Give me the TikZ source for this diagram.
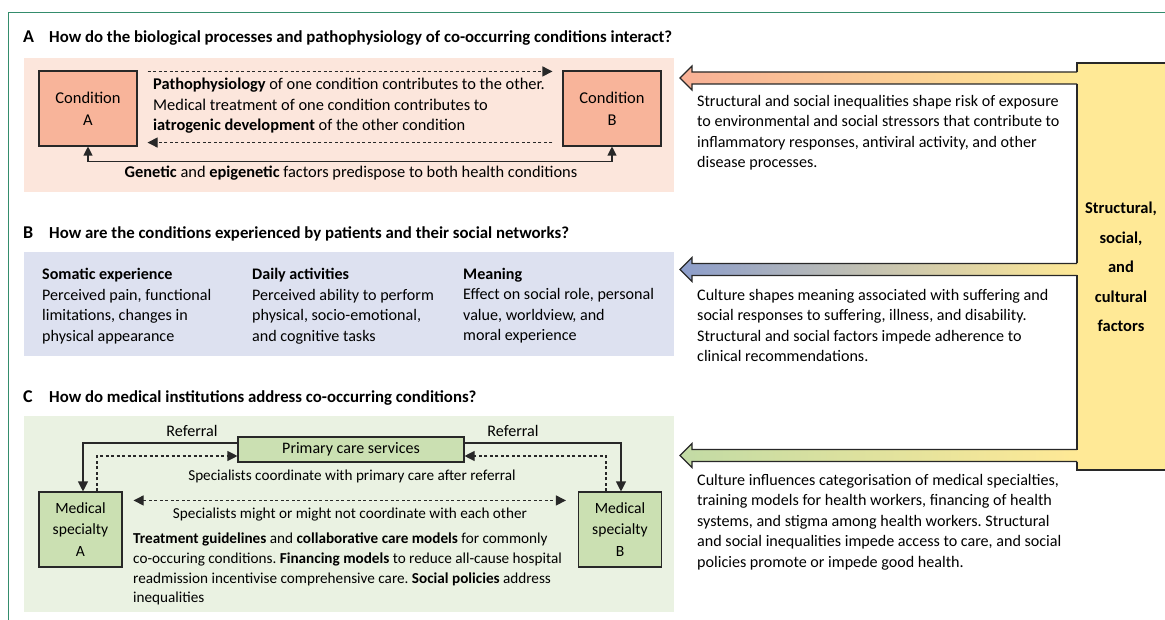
\documentclass[tikz,border=0pt]{standalone}
\usepackage{fontspec}
\setmainfont{Carlito}
\usepackage{xcolor}
\usetikzlibrary{arrows.meta}
\frenchspacing

\definecolor{framegreen}{RGB}{52,140,108}
\definecolor{boxline}{RGB}{40,40,40}
\definecolor{panelA}{RGB}{252,230,220}
\definecolor{panelB}{RGB}{221,225,240}
\definecolor{panelC}{RGB}{234,242,226}
\definecolor{condfill}{RGB}{248,180,154}
\definecolor{specfill}{RGB}{203,224,178}
\definecolor{yellowfill}{RGB}{255,233,150}
\definecolor{arrowA}{RGB}{248,176,150}
\definecolor{arrowB}{RGB}{140,157,203}
\definecolor{arrowC}{RGB}{194,219,165}

\newcommand\txtfont{\fontsize{16.1}{20.5}\selectfont}
\newcommand\pathfont{\fontsize{16.4}{20.5}\selectfont}
\newcommand\carefont{\fontsize{15.2}{19.7}\selectfont}

\tikzset{
	title/.style={anchor=base west, inner sep=0pt, font=\bfseries\fontsize{16.8}{18}\selectfont},
	letter/.style={anchor=base west, inner sep=0pt, font=\bfseries\fontsize{18}{18}\selectfont},
	body/.style={anchor=north west, inner sep=0pt, align=left, font=\txtfont},
	linetxt/.style={anchor=base, inner sep=0pt, font=\carefont},
	cond/.style={draw=boxline, fill=condfill, line width=1.1pt, minimum width=98pt, minimum height=75pt, align=center, inner sep=0pt, font=\fontsize{16.5}{22}\selectfont},
	spec/.style={draw=boxline, fill=specfill, line width=1.1pt, minimum width=83pt, minimum height=75pt, align=center, inner sep=0pt, font=\fontsize{15.6}{21.5}\selectfont},
	prim/.style={draw=boxline, fill=specfill, line width=1.1pt, minimum width=226pt, minimum height=25pt, inner sep=0pt, font=\fontsize{16}{18}\selectfont},
	factor/.style={align=center, inner sep=0pt, font=\bfseries\fontsize{16.5}{29.5}\selectfont},
	edge/.style={draw=boxline, line width=1.1pt},
	link/.style={edge, -{Triangle[length=10pt,width=10pt]}},
	dlink/.style={link, dash pattern=on 3pt off 2.5pt},
	dlinkboth/.style={edge, dash pattern=on 3pt off 2.5pt, {Triangle[length=10pt,width=10pt]}-{Triangle[length=10pt,width=10pt]}},
	linkboth/.style={edge, {Triangle[length=9pt,width=9pt]}-{Triangle[length=9pt,width=9pt]}}
}

\begin{document}
\begin{tikzpicture}[x=1pt,y=-1pt]
	\useasboundingbox (0,0) rectangle (1165,620);
	
	% Frame
	\draw[framegreen, line width=1pt] (8.5,620) -- (8.5,13) -- (1165,13);
	
	% Panels
	\fill[panelA] (24,58) rectangle (674,192);
	\fill[panelB] (24,252) rectangle (674,356);
	\fill[panelC] (24,416) rectangle (674,612);
	
	% A: biological processes
	\node[letter] (letA) at (23,42.5) {A};
	\node[title] (titA) at (49,42.5) {How do the biological processes and pathophysiology of co-occurring conditions interact?};
	\node[cond] (condA) at (88,108.5) {Condition\\A};
	\node[cond] (condB) at (612,108.5) {Condition\\B};
	\draw[dlink] ([xshift=10pt,yshift=-1pt]condA.north east) -- ([xshift=-10pt,yshift=-1pt]condB.north west);
	\draw[dlink] ([xshift=-10pt,yshift=4pt]condB.south west) -- ([xshift=10pt,yshift=4pt]condA.south east);
	\node[body, font=\pathfont] (pathtxt) at (153,78) {\textbf{Pathophysiology} of one condition contributes to the other.\\
		Medical treatment of one condition contributes to\\
		\textbf{iatrogenic development} of the other condition};
	\draw[linkboth] (condA.south) -- ++(0,15) -| (condB.south);
	\node[linetxt, font=\pathfont] (gentxt) at (351,178) {\textbf{Genetic} and \textbf{epigenetic} factors predispose to both health conditions};
	
	% B: experience of patients
	\node[letter] (letB) at (23,238.5) {B};
	\node[title] (titB) at (49,238.5) {How are the conditions experienced by patients and their social networks?};
	\node[body] (soma) at (42,268) {\textbf{Somatic experience}\\
		Perceived pain, functional\\
		limitations, changes in\\
		physical appearance};
	\node[body] (daily) at (252,268) {\textbf{Daily activities}\\
		Perceived ability to perform\\
		physical, socio-emotional,\\
		and cognitive tasks};
	\node[body] (meaning) at (463,268) {\textbf{Meaning}\\
		Effect on social role, personal\\
		value, worldview, and\\
		moral experience};
	
	% C: medical institutions
	\node[letter] (letC) at (23,402.5) {C};
	\node[title] (titC) at (49,402.5) {How do medical institutions address co-occurring conditions?};
	\node[prim] (prim) at (351,449.5) {Primary care services};
	\node[spec] (specA) at (80.5,529.5) {Medical\\specialty\\A};
	\node[spec] (specB) at (620,529.5) {Medical\\specialty\\B};
	\draw[link] ([yshift=6.5pt]prim.west) -| ([xshift=2.5pt]specA.north);
	\draw[dlink] ([xshift=16.5pt]specA.north) |- ([yshift=-6.5pt]prim.west);
	\draw[link] ([yshift=6.5pt]prim.east) -| ([xshift=1pt]specB.north);
	\draw[dlink] ([xshift=-14pt]specB.north) |- ([yshift=-6.5pt]prim.east);
	\draw[dlinkboth] ([xshift=11pt,yshift=-9pt]specA.north east) -- ([xshift=-12pt,yshift=-9pt]specB.north west);
	\node[linetxt, font=\txtfont] (refA) at (192,436) {Referral};
	\node[linetxt, font=\txtfont] (refB) at (513,436) {Referral};
	\node[linetxt] (cootxt) at (352,480) {Specialists coordinate with primary care after referral};
	\node[linetxt] (mighttxt) at (350,518) {Specialists might or might not coordinate with each other};
	\node[body, font=\carefont] (policy) at (133,533) {\textbf{Treatment guidelines} and \textbf{collaborative care models} for commonly\\
		co-occuring conditions. \textbf{Financing models} to reduce all-cause hospital\\
		readmission incentivise comprehensive care. \textbf{Social policies} address\\
		inequalities};
	
	% Structural, social, and cultural factors
	\fill[yellowfill] (1077,63) rectangle (1165,470);
	\node[factor] (factors) at (1121,267) {Structural,\\social,\\and\\cultural\\factors};
	\shade[left color=arrowA, right color=yellowfill] (680,78) -- (692,66) -- (692,72) -- (1078,72) -- (1078,84) -- (692,84) -- (692,90) -- cycle;
	\draw[edge] (1077,72) -- (692,72) -- (692,66) -- (680,78) -- (692,90) -- (692,84) -- (1077,84);
	\shade[left color=arrowB, right color=yellowfill] (680,269.5) -- (692,257.5) -- (692,263.5) -- (1078,263.5) -- (1078,275.5) -- (692,275.5) -- (692,281.5) -- cycle;
	\draw[edge] (1077,263.5) -- (692,263.5) -- (692,257.5) -- (680,269.5) -- (692,281.5) -- (692,275.5) -- (1077,275.5);
	\shade[left color=arrowC, right color=yellowfill] (680,455.5) -- (692,443.5) -- (692,449.5) -- (1078,449.5) -- (1078,461.5) -- (692,461.5) -- (692,467.5) -- cycle;
	\draw[edge] (1077,449.5) -- (692,449.5) -- (692,443.5) -- (680,455.5) -- (692,467.5) -- (692,461.5) -- (1077,461.5);
	\draw[edge] (1165,63) -- (1077,63) -- (1077,72);
	\draw[edge] (1077,84) -- (1077,263.5);
	\draw[edge] (1077,275.5) -- (1077,449.5);
	\draw[edge] (1077,461.5) -- (1077,470) -- (1165,470);
	\node[body] (riskA) at (697,95) {Structural and social inequalities shape risk of exposure\\
		to environmental and social stressors that contribute to\\
		inflammatory responses, antiviral activity, and other\\
		disease processes.};
	\node[body] (riskB) at (697,289) {Culture shapes meaning associated with suffering and\\
		social responses to suffering, illness, and disability.\\
		Structural and social factors impede adherence to\\
		clinical recommendations.};
	\node[body] (riskC) at (697,474) {Culture influences categorisation of medical specialties,\\
		training models for health workers, financing of health\\
		systems, and stigma among health workers. Structural\\
		and social inequalities impede access to care, and social\\
		policies promote or impede good health.};
	
\end{tikzpicture}
\end{document}
